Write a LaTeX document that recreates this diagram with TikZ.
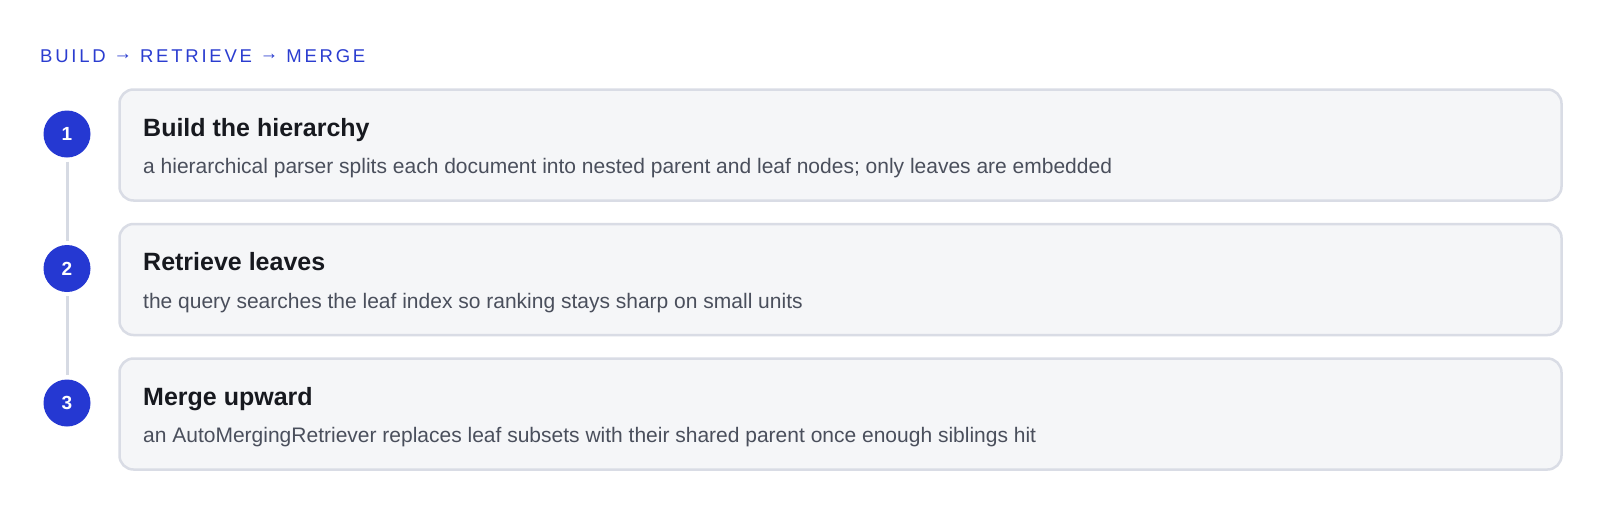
\documentclass[tikz,border=0pt]{standalone}
\usepackage{fontspec}
\setmainfont{Liberation Sans}
\definecolor{stepblue}{HTML}{2538D2}
\definecolor{hdrblue}{HTML}{2B3DD0}
\definecolor{boxfill}{HTML}{F5F6F8}
\definecolor{boxline}{HTML}{D9DCE5}
\definecolor{railline}{HTML}{D6DAE3}
\definecolor{titlecol}{HTML}{17191F}
\definecolor{desccol}{HTML}{4A4F5C}
\newcommand{\hdrarrow}{\raisebox{2.6pt}{→}}
\begin{document}
\begin{tikzpicture}[x=1pt,y=-1pt,
  card/.style={draw=boxline, fill=boxfill, line width=2.5pt, rounded corners=14pt,
    minimum width=1442pt, minimum height=111pt, anchor=north west, inner sep=0pt},
  badge/.style={circle, fill=stepblue, minimum size=47pt, inner sep=0pt, text=white,
    font=\bfseries\fontsize{19}{19}\selectfont},
  cardtitle/.style={anchor=base west, inner sep=0pt, text=titlecol,
    font=\bfseries\fontsize{25}{29}\selectfont},
  carddesc/.style={anchor=base west, inner sep=0pt, text=desccol,
    font=\fontsize{21}{25}\selectfont},
  rail/.style={draw=railline, line width=3pt, shorten >=4pt, shorten <=4pt},
  header/.style={anchor=base west, inner sep=0pt, text=hdrblue,
    font=\fontsize{18.5}{22}\selectfont}
]
\useasboundingbox[fill=white] (0,0) rectangle (1600,509);

\node[header] (hdr) at (40,62) {\addfontfeature{LetterSpace=15}BUILD \hdrarrow{} RETRIEVE \hdrarrow{} MERGE};

% cards
\node[card] (box1) at (118.25,88.25) {};
\node[card] (box2) at (118.25,222.75) {};
\node[card] (box3) at (118.25,357.25) {};

\node[cardtitle] (t1) at (143,136) {Build the hierarchy};
\node[carddesc] (d1) at (143,173.5) {a hierarchical parser splits each document into nested parent and leaf nodes; only leaves are embedded};

\node[cardtitle] (t2) at (143,270.5) {Retrieve leaves};
\node[carddesc] (d2) at (143,308) {the query searches the leaf index so ranking stays sharp on small units};

\node[cardtitle] (t3) at (143,405) {Merge upward};
\node[carddesc] (d3) at (143,442.5) {an AutoMergingRetriever replaces leaf subsets with their shared parent once enough siblings hit};

% badges
\node[badge] (c1) at (67,134) {1};
\node[badge] (c2) at (67,268.5) {2};
\node[badge] (c3) at (67,403) {3};

\draw[rail] (c1) -- (c2);
\draw[rail] (c2) -- (c3);
\end{tikzpicture}
\end{document}
